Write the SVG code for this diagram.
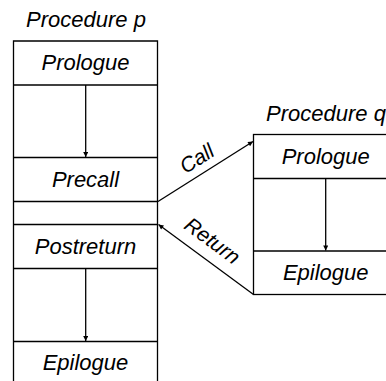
<svg xmlns="http://www.w3.org/2000/svg" width="386" height="381" viewBox="0 0 386 381">
<style>
.t{font-family:"Liberation Sans",Arial,sans-serif;font-style:italic;font-size:22px;fill:#000;text-anchor:middle}
.a{font-size:21px}
.ln{stroke:#000;stroke-width:1.3;fill:none}
</style>
<defs>
<marker id="ah" viewBox="0 0 10 10" refX="10" refY="5" markerWidth="8" markerHeight="5" markerUnits="userSpaceOnUse" orient="auto">
<path d="M0,0 L10,5 L0,10 z" fill="#000"/>
</marker>
</defs>
<g id="procP">
<text class="t" x="86" y="27">Procedure p</text>
<path class="ln" d="M13.5,381 V41 H157.5 V381"/>
<g id="p-prologue"><line class="ln" x1="13.5" y1="85" x2="157.5" y2="85"/><text class="t" x="85.5" y="70">Prologue</text></g>
<g id="p-precall"><line class="ln" x1="13.5" y1="157.5" x2="157.5" y2="157.5"/><line class="ln" x1="13.5" y1="201.5" x2="157.5" y2="201.5"/><text class="t" x="85.5" y="186.5">Precall</text></g>
<g id="p-postreturn"><line class="ln" x1="13.5" y1="224.5" x2="157.5" y2="224.5"/><line class="ln" x1="13.5" y1="268.5" x2="157.5" y2="268.5"/><text class="t" x="85.5" y="253.5">Postreturn</text></g>
<g id="p-epilogue"><line class="ln" x1="13.5" y1="341.5" x2="157.5" y2="341.5"/><text class="t" x="85.5" y="370">Epilogue</text></g>
</g>
<g id="procQ">
<text class="t" x="326" y="121">Procedure q</text>
<rect class="ln" x="253.5" y="134.5" width="145" height="160"/>
<g id="q-prologue"><line class="ln" x1="253.5" y1="178.5" x2="398" y2="178.5"/><text class="t" x="325.7" y="164">Prologue</text></g>
<g id="q-epilogue"><line class="ln" x1="253.5" y1="251" x2="398" y2="251"/><text class="t" x="325.7" y="279.5">Epilogue</text></g>
</g>
<g id="connectors">
<line class="ln" x1="85.7" y1="85" x2="85.7" y2="157" marker-end="url(#ah)"/>
<line class="ln" x1="85.7" y1="268.5" x2="85.7" y2="341" marker-end="url(#ah)"/>
<line class="ln" x1="325.7" y1="178.5" x2="325.7" y2="250.5" marker-end="url(#ah)"/>
<line class="ln" x1="158" y1="201.5" x2="253" y2="141.5" marker-end="url(#ah)"/>
<line class="ln" x1="253.5" y1="294.5" x2="158.5" y2="224.5" marker-end="url(#ah)"/>
<text class="t a" transform="translate(196.7,158.3) rotate(-32.3)" x="0" y="7.5">Call</text>
<text class="t a" transform="translate(212.3,240.8) rotate(36.6)" x="0" y="7">Return</text>
</g>
</svg>
